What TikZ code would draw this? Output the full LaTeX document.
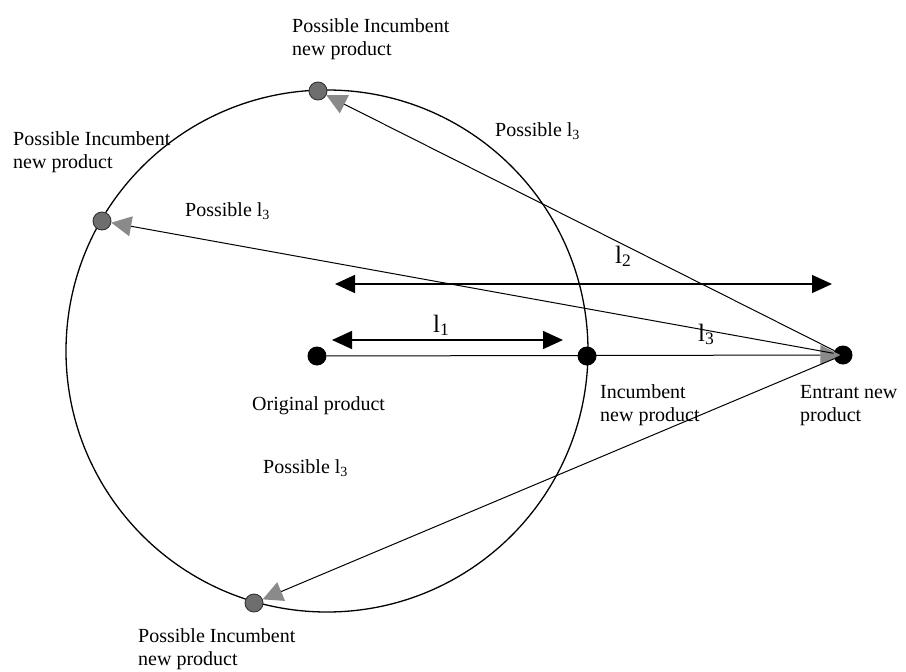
\documentclass[tikz,border=0pt]{standalone}
\usepackage{fontspec}
\setmainfont{Liberation Serif}
\usetikzlibrary{arrows.meta}
\definecolor{tipgray}{HTML}{8A8A8A}
\definecolor{dotgray}{HTML}{6E6E6E}
\newcommand{\twol}[2]{\begin{tabular}[t]{@{}l@{}}#1\\#2\end{tabular}}
\tikzset{
  lab/.style={anchor=base west, inner sep=0pt, font=\fontsize{20}{23}\selectfont},
  llab/.style={anchor=base west, inner sep=0pt, font=\fontsize{25}{28}\selectfont},
  bdot/.style={circle, fill=black, minimum size=19pt, inner sep=0pt},
  gdot/.style={circle, fill=dotgray, draw=black!80, line width=0.9pt, minimum size=18pt, inner sep=0pt},
  grayarrow/.style={line width=1pt, -{Triangle[length=20pt,width=20pt,color=tipgray]}},
  dblarrow/.style={line width=1.5pt, {Triangle[length=20pt,width=18pt]}-{Triangle[length=20pt,width=18pt]}},
}
\begin{document}
\begin{tikzpicture}[x=1pt,y=-1pt]
\useasboundingbox[fill=white] (0,0) rectangle (906,672);
% big circle
\draw[line width=1.3pt] (327,351) circle[radius=261pt];
% dots
\node[bdot] (orig) at (317,356) {};
\node[bdot] (inc) at (587,356) {};
\node[bdot] (ent) at (843,355) {};
\node[gdot] (ptop) at (318,91) {};
\node[gdot] (pleft) at (102,221) {};
\node[gdot] (pbot) at (254,603) {};
% double arrows
\coordinate (l1a) at (332,340);
\coordinate (l1b) at (563,340);
\coordinate (l2a) at (335,284);
\coordinate (l2b) at (832,284);
\draw[dblarrow] (l1a) -- (l1b);
\draw[dblarrow] (l2a) -- (l2b);
% connectors
\draw[grayarrow, shorten >=-7pt] (orig) -- (ent);
\draw[grayarrow] (ent) -- (ptop);
\draw[grayarrow] (ent) -- (pleft);
\draw[grayarrow] (ent) -- (pbot);
% labels
\node[lab] (toplab) at (292,32) {\twol{Possible Incumbent}{new product}};
\node[lab] (leftlab) at (13,145) {\twol{Possible Incumbent}{new product}};
\node[lab] (botlab) at (138,642) {\twol{Possible Incumbent}{new product}};
\node[lab] (origlab) at (252,410) {Original product};
\node[lab] (inclab) at (600,398) {\twol{Incumbent}{new product}};
\node[lab] (entlab) at (800,398) {\twol{Entrant new}{product}};
\node[lab] (p3top) at (495,136) {Possible l\textsubscript{3}};
\node[lab] (p3left) at (185,216) {Possible l\textsubscript{3}};
\node[lab] (p3bot) at (263,473) {Possible l\textsubscript{3}};
\node[llab] (l1lab) at (433,332) {l\textsubscript{1}};
\node[llab] (l2lab) at (615,263) {l\textsubscript{2}};
\node[llab] (l3lab) at (698,341) {l\textsubscript{3}};
\end{tikzpicture}
\end{document}
